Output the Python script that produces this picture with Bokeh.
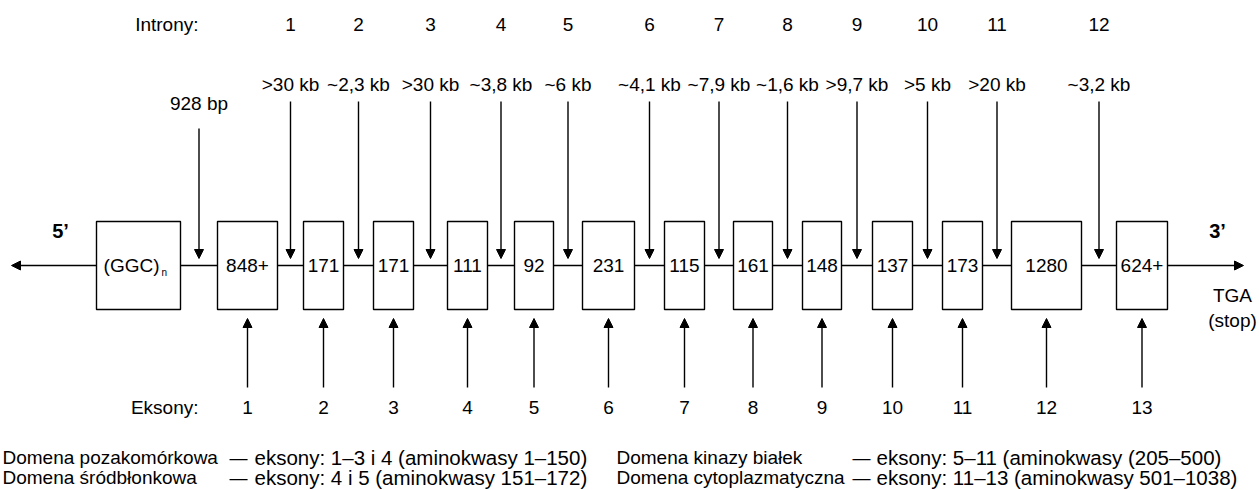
from bokeh.plotting import figure
from bokeh.models import Range1d, Arrow, NormalHead, ColumnDataSource
from bokeh.core.properties import value
from bokeh.embed import file_html
from bokeh.resources import INLINE

# ---------------- data ----------------
exon_sizes = ["848+", "171", "171", "111", "92", "231", "115", "161", "148", "137", "173", "1280", "624+"]
exon_numbers = ["1", "2", "3", "4", "5", "6", "7", "8", "9", "10", "11", "12", "13"]
intron_numbers = ["1", "2", "3", "4", "5", "6", "7", "8", "9", "10", "11", "12"]
intron_sizes = [">30 kb", "~2,3 kb", ">30 kb", "~3,8 kb", "~6 kb", "~4,1 kb", "~7,9 kb",
                "~1,6 kb", ">9,7 kb", ">5 kb", ">20 kb", "~3,2 kb"]
promoter_label = "928 bp"
promoter_box = "(GGC)"
promoter_sub = "n"
domain_names_left = ["Domena pozakomórkowa", "Domena śródbłonkowa"]
domain_desc_left = ["eksony: 1–3 i 4 (aminokwasy 1–150)", "eksony: 4 i 5 (aminokwasy 151–172)"]
domain_names_right = ["Domena kinazy białek", "Domena cytoplazmatyczna"]
domain_desc_right = ["eksony: 5–11 (aminokwasy (205–500)", "eksony: 11–13 (aminokwasy 501–1038)"]

# ---------------- layout (reference pixel space) ----------------
box_left = [217, 303, 373, 447, 514, 582, 664, 733, 802, 872, 942, 1011, 1116]
box_right = [277, 343, 413, 487, 553, 634, 704, 772, 841, 912, 982, 1081, 1167]
ggc_left, ggc_right = 96, 180
box_top, box_bottom, axis_y = 221, 309, 265

FONT = "Liberation Sans"
FS = "19px"
LW = 1.4

exon_x = [(a + b) / 2 for a, b in zip(box_left, box_right)]
intron_x = [(box_right[i] + box_left[i + 1]) / 2 for i in range(len(box_left) - 1)]
prom_x = (ggc_right + box_left[0]) / 2

p = figure(width=1259, height=490, x_range=Range1d(0, 1259), y_range=Range1d(490, 0),
           output_backend="svg", toolbar_location=None, min_border=0,
           x_axis_location=None, y_axis_location=None)
p.grid.visible = False
p.outline_line_color = None
p.background_fill_color = "white"

# backbone
p.segment(x0=[ggc_right], y0=[axis_y], x1=[box_left[-1]], y1=[axis_y], line_color="black", line_width=LW)

def head():
    return NormalHead(size=9, fill_color="black", line_color="black", line_width=1)

# outer arrows (5' and 3')
outer = ColumnDataSource(dict(x0=[ggc_left, box_right[-1]], x1=[11, 1243], y=[axis_y, axis_y]))
p.add_layout(Arrow(end=head(), x_start="x0", y_start="y", x_end="x1", y_end="y",
                   source=outer, line_width=LW, line_color="black"))

# intron arrows (from above)
top_src = ColumnDataSource(dict(x=[prom_x] + intron_x,
                                y0=[128] + [101] * len(intron_x),
                                y1=[258] * (len(intron_x) + 1)))
p.add_layout(Arrow(end=head(), x_start="x", y_start="y0", x_end="x", y_end="y1",
                   source=top_src, line_width=LW, line_color="black"))

# exon arrows (from below)
bot_src = ColumnDataSource(dict(x=exon_x, y0=[387] * len(exon_x), y1=[318] * len(exon_x)))
p.add_layout(Arrow(end=head(), x_start="x", y_start="y0", x_end="x", y_end="y1",
                   source=bot_src, line_width=LW, line_color="black"))

# boxes
p.quad(left=[ggc_left] + box_left, right=[ggc_right] + box_right,
       top=box_top, bottom=box_bottom, fill_color="white", line_color="black", line_width=LW)

def txt(x, y, t, size=FS, align="center", style="normal", baseline="middle"):
    p.text(x=x, y=y, text=t, text_align=align, text_baseline=baseline,
           text_font=value(FONT), text_font_size=size, text_font_style=style, text_color="black")

# box labels
txt(exon_x, [axis_y] * len(exon_x), exon_sizes)
txt([159], [axis_y], [promoter_box], align="right")
txt([161], [axis_y + 7], [promoter_sub], size="10px", align="left")

# intron labels
txt([198], [24], ["Introny:"], align="right")
txt(intron_x, [24] * len(intron_x), intron_numbers)
txt(intron_x, [84] * len(intron_x), intron_sizes)
txt([prom_x], [103], [promoter_label])

# exon labels
txt([198], [407], ["Eksony:"], align="right")
txt(exon_x, [407] * len(exon_x), exon_numbers)

# ends
txt([60], [230], ["5’"], size="20px", style="bold")
txt([1217], [230], ["3’"], size="20px", style="bold")
txt([1232, 1232], [295, 320], ["TGA", "(stop)"])

# domain legend
rows_y = [457, 477]
txt([2, 2], rows_y, domain_names_left, size="19px", align="left")
txt([229, 229], rows_y, ["—", "—"], size="18px", align="left")
txt([254, 254], rows_y, domain_desc_left, size="20.5px", align="left")
txt([616, 616], rows_y, domain_names_right, size="19px", align="left")
txt([852, 852], rows_y, ["—", "—"], size="18px", align="left")
txt([876, 876], rows_y, domain_desc_right, size="20.5px", align="left")

open("out.html", "w").write(file_html(p, INLINE))
